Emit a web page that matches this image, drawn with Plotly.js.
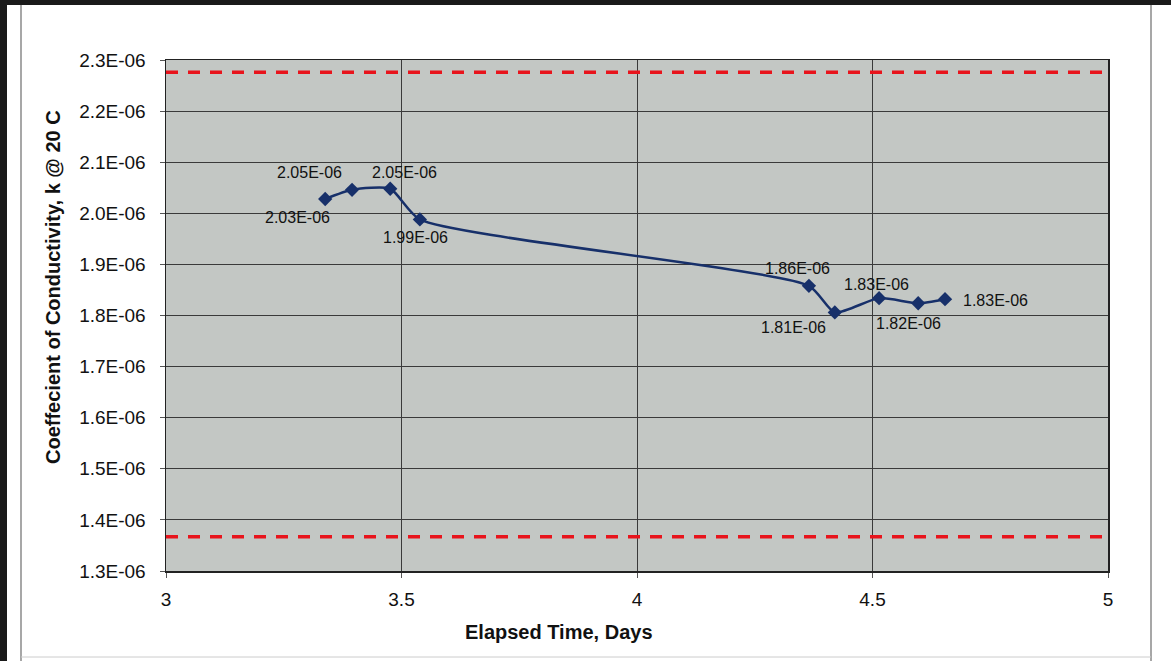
<!DOCTYPE html>
<html>
<head>
<meta charset="utf-8">
<script src="https://cdn.plot.ly/plotly-3.0.1.min.js"></script>
<style>html,body{margin:0;padding:0;background:#fff;}#chart{width:1171px;height:661px;}</style>
</head>
<body>
<div id="chart"></div>
<script>
// Data
const elapsedDays = [3.338, 3.395, 3.476, 3.539, 4.365, 4.420, 4.514, 4.597, 4.654];
const conductivity = [2.028e-6, 2.046e-6, 2.048e-6, 1.988e-6, 1.858e-6, 1.806e-6, 1.834e-6, 1.824e-6, 1.832e-6];
const upperLimit = [2.276e-6, 2.276e-6];
const lowerLimit = [1.367e-6, 1.367e-6];
const limitX = [3, 5];
const yTickVals = [1.3e-6,1.4e-6,1.5e-6,1.6e-6,1.7e-6,1.8e-6,1.9e-6,2.0e-6,2.1e-6,2.2e-6,2.3e-6];
const yTickText = ["1.3E-06","1.4E-06","1.5E-06","1.6E-06","1.7E-06","1.8E-06","1.9E-06","2.0E-06","2.1E-06","2.2E-06","2.3E-06"];
const xTickVals = [3, 3.5, 4, 4.5, 5];
const xTickText = ["3", "3.5", "4", "4.5", "5"];
// label offsets (px) for each data label
const labelShiftX = [-28, -43, 14, -4, -11, -41, -3, -10, 50];
const labelShiftY = [-19, 17, 16, -18, 17, -15, 14, -20, -1];

function fmt(v){
  const e = v.toExponential(2).toUpperCase();
  const [m, ex] = e.split("E");
  const n = parseInt(ex, 10);
  const s = (n < 0 ? "-" : "+") + String(Math.abs(n)).padStart(2, "0");
  return m + "E" + s;
}

const font = "Liberation Sans, Arial, sans-serif";
const traces = [
  {x: limitX, y: upperLimit, mode: "lines", line: {color: "#e8141c", width: 3.5, dash: "12px,10px"}, hoverinfo: "skip"},
  {x: limitX, y: lowerLimit, mode: "lines", line: {color: "#e8141c", width: 3.5, dash: "12px,10px"}, hoverinfo: "skip"},
  {x: elapsedDays, y: conductivity, mode: "lines+markers",
   line: {color: "#17306a", width: 2.5, shape: "spline", smoothing: 0.6},
   marker: {symbol: "diamond", size: 11, color: "#17306a"}}
];

const annotations = elapsedDays.map((x, i) => ({
  x: x, y: conductivity[i], xref: "x", yref: "y", text: fmt(conductivity[i]),
  showarrow: false, xshift: labelShiftX[i], yshift: labelShiftY[i],
  font: {family: font, size: 16, color: "#111"}
}));
annotations.push({x: (559-166)/942, y: (571-632)/511, xref: "paper", yref: "paper", xanchor: "center", yanchor: "middle",
  text: "<b>Elapsed Time, Days</b>", showarrow: false, font: {family: font, size: 20, color: "#111"}});
annotations.push({x: (53-166)/942, y: (571-287)/511, xref: "paper", yref: "paper", xanchor: "center", yanchor: "middle", textangle: -90,
  text: "<b>Coeffecient of Conductivity, k @ 20 C</b>", showarrow: false, font: {family: font, size: 20, color: "#111"}});

const px = p => (p - 166) / 942;
const py = p => (571 - p) / 511;
const shapes = [
  {type: "rect", xref: "paper", yref: "paper", x0: px(0), x1: px(1171), y0: py(5), y1: py(0), fillcolor: "#1a1a1a", line: {width: 0}, layer: "below"},
  {type: "rect", xref: "paper", yref: "paper", x0: px(0), x1: px(7), y0: py(661), y1: py(0), fillcolor: "#1a1a1a", line: {width: 0}, layer: "below"},
  {type: "line", xref: "paper", yref: "paper", x0: px(21), x1: px(21), y0: py(661), y1: py(5), line: {color: "#8a8a8a", width: 1.5}},
  {type: "line", xref: "paper", yref: "paper", x0: px(1151), x1: px(1151), y0: py(661), y1: py(5), line: {color: "#8a8a8a", width: 1.5}},
  {type: "line", xref: "paper", yref: "paper", x0: px(21), x1: px(1151), y0: py(657), y1: py(657), line: {color: "#cccccc", width: 1}}
];

const layout = {
  width: 1171, height: 661,
  margin: {l: 166, r: 63, t: 60, b: 90},
  paper_bgcolor: "#ffffff", plot_bgcolor: "#c3c7c4",
  showlegend: false,
  font: {family: font, color: "#111"},
  xaxis: {range: [3, 5], tickvals: xTickVals, ticktext: xTickText, showgrid: true, gridcolor: "#3a3a3a", gridwidth: 1,
    zeroline: false, showline: true, linecolor: "#222", linewidth: 1.5, mirror: true,
    ticks: "outside", ticklen: 5, tickcolor: "#555", ticklabelstandoff: 6, tickfont: {family: font, size: 19, color: "#111"}},
  yaxis: {range: [1.3e-6, 2.3e-6], tickvals: yTickVals, ticktext: yTickText, showgrid: true, gridcolor: "#3a3a3a", gridwidth: 1,
    zeroline: false, showline: true, linecolor: "#222", linewidth: 1.5, mirror: true,
    ticks: "outside", ticklen: 5, tickcolor: "#555", ticklabelstandoff: 10, tickfont: {family: font, size: 19, color: "#111"}},
  annotations: annotations,
  shapes: shapes
};

Plotly.newPlot("chart", traces, layout, {displayModeBar: false, staticPlot: true});
</script>
</body>
</html>
